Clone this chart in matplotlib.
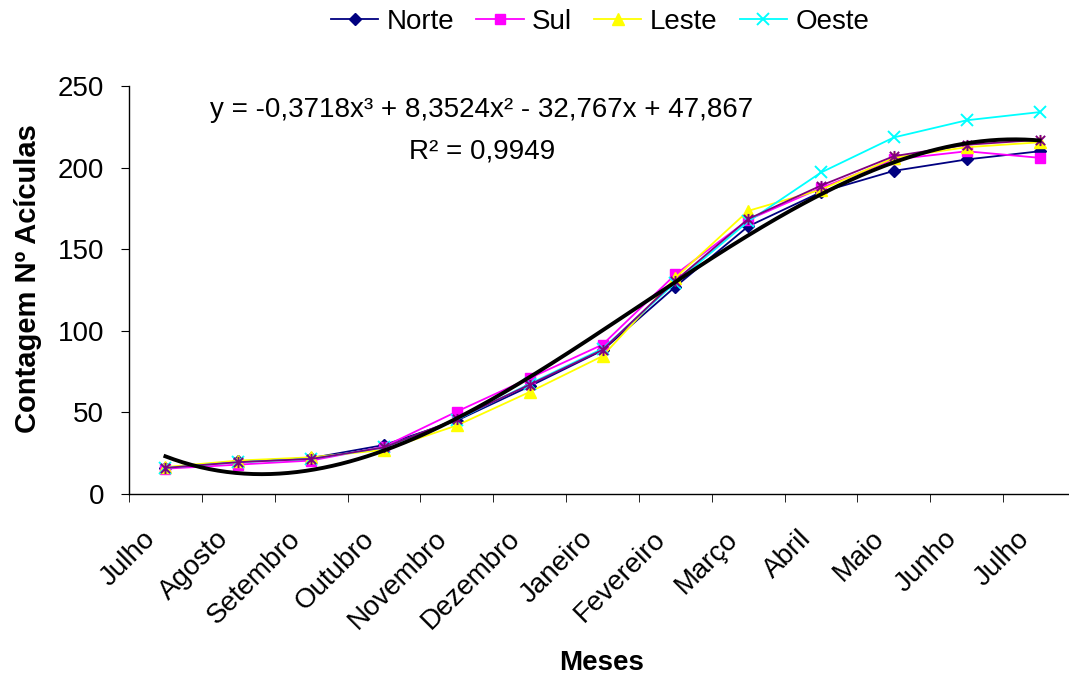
import numpy as np
import matplotlib
matplotlib.use('Agg')
import matplotlib.pyplot as plt
import matplotlib.transforms as mtransforms
from matplotlib.path import Path

plt.rcParams['font.family'] = ['Liberation Sans', 'DejaVu Sans']

MONTHS = ['Julho', 'Agosto', 'Setembro', 'Outubro', 'Novembro', 'Dezembro',
          'Janeiro', 'Fevereiro', 'Março', 'Abril', 'Maio', 'Junho', 'Julho']

norte = [16, 20, 22, 30, 45, 66, 88, 127, 164, 185, 198, 205, 210]
sul = [15.5, 18, 20.5, 29, 50.5, 71, 91.5, 134.5, 168, 187.5, 205, 210, 206]
leste = [16.5, 20.5, 22.5, 27, 42, 62.5, 84.5, 132.5, 173.5, 186.5, 206, 212.5, 215.5]
oeste = [16, 19.5, 21.5, 28.5, 45.5, 67.5, 89, 129.5, 167, 197, 218.5, 229, 234]
media = [16, 19.5, 21.5, 28.5, 46, 67, 88.3, 130.7, 168.5, 189, 207, 214, 217]

# trendline coefficients as printed on the chart (x3, x2, x, const)
TREND_COEFS = [-0.3718, 8.3524, -32.767, 47.867]
EQ_TEXT = 'y = -0,3718x³ + 8,3524x² - 32,767x + 47,867'
R2_TEXT = 'R² = 0,9949'

FS = 20

# Excel-style star marker: x with a vertical bar
star = Path([(-1, -1), (1, 1), (-1, 1), (1, -1), (0, -1.2), (0, 1.2)],
            [Path.MOVETO, Path.LINETO, Path.MOVETO, Path.LINETO, Path.MOVETO, Path.LINETO])

fig = plt.figure(figsize=(10.69, 6.78), dpi=100)
ax = fig.add_axes([129/1069, 184/678, 947/1069, 408/678])

x = np.arange(1, len(MONTHS) + 1)
ln = 1.3
h1, = ax.plot(x, norte, color='#000080', lw=ln, marker='D', ms=6, label='Norte')
h2, = ax.plot(x, sul, color='#FF00FF', lw=ln, marker='s', ms=7, label='Sul')
h3, = ax.plot(x, leste, color='#FFFF00', lw=ln, marker='^', ms=8, label='Leste')
h4, = ax.plot(x, oeste, color='#00FFFF', lw=ln, marker='x', ms=8, mew=1.4, label='Oeste')
ax.plot(x, media, color='#800080', lw=ln, marker=star, ms=8, mew=1.4)

xt = np.linspace(1, len(MONTHS), 300)
ax.plot(xt, np.polyval(TREND_COEFS, xt), color='black', lw=2.8)

ax.set_xlim(0.5, len(MONTHS) + 0.5)
ax.set_ylim(0, 250)
ax.set_yticks(range(0, 251, 50))
ax.tick_params(axis='y', labelsize=FS, length=6, direction='out', pad=12)

ax.set_xticks(x)
ax.set_xticklabels(MONTHS, rotation=45, ha='right', va='center',
                   rotation_mode='anchor', fontsize=FS)
ax.set_xticks(np.arange(0.5, len(MONTHS) + 1, 1), minor=True)
ax.tick_params(axis='x', which='major', length=0, pad=0)
ax.tick_params(axis='x', which='minor', length=6, direction='out')
offset = mtransforms.ScaledTranslation(-14/100, -41/100, fig.dpi_scale_trans)
for lbl in ax.get_xticklabels():
    lbl.set_transform(lbl.get_transform() + offset)

for s in ['top', 'right']:
    ax.spines[s].set_visible(False)
ax.spines['left'].set_linewidth(1)
ax.spines['bottom'].set_linewidth(1)

ax.text(482/1069, 1 - 110/678, EQ_TEXT, transform=fig.transFigure,
        ha='center', va='center', fontsize=FS)
ax.text(482/1069, 1 - 152/678, R2_TEXT, transform=fig.transFigure,
        ha='center', va='center', fontsize=FS)

fig.text(28/1069, 1 - 279/678, 'Contagem Nº Acículas', rotation=90,
         ha='center', va='center', fontsize=21, fontweight='bold')
fig.text(602/1069, 1 - 663/678, 'Meses', ha='center', va='center',
         fontsize=FS, fontweight='bold')

fig.legend(handles=[h1, h2, h3, h4], loc='center', bbox_to_anchor=(600/1069, 1 - 22/678),
           ncol=4, frameon=False, fontsize=FS, numpoints=1, handlelength=1.7,
           handletextpad=0.3, columnspacing=0.8, borderaxespad=0)

fig.savefig('out.png', dpi=100)
